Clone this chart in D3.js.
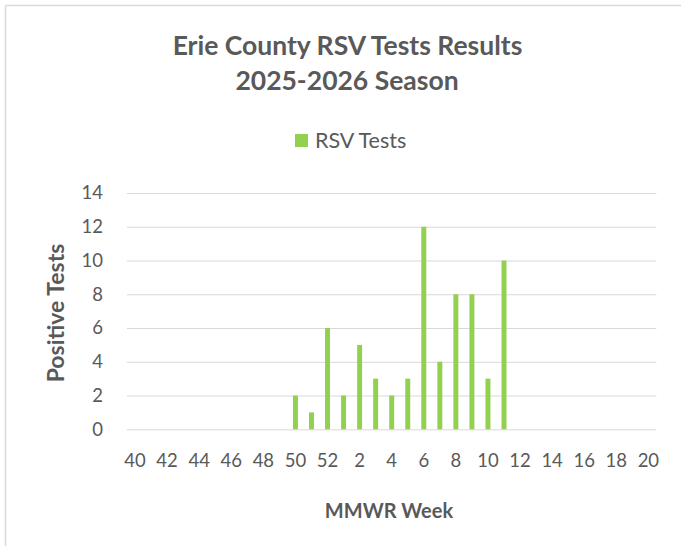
<!DOCTYPE html>
<html>
  <head>
    <meta charset="utf-8">
    <title>Erie County RSV Tests Results</title>
    <script src="https://d3js.org/d3.v7.min.js"></script>
  </head>
  <style>
    body { margin: 0; background: #fff; }
    text { font-family: Lato, "Open Sans", sans-serif; fill: #595959; }
    .grid-line { stroke: #d9d9d9; stroke-width: 1px; }
  </style>
  <body>

    <script>
      const width = 681;
      const height = 546;
      const margin = {top: 193, right: 25, bottom: 116, left: 127};
      const plotWidth = 656.4 - margin.left;
      const plotHeight = 429.3 - margin.top;

      // MMWR weeks, season runs 40..52 then 1..20
      const weeks = ["40", "41", "42", "43", "44", "45", "46", "47", "48", "49", "50", "51", "52",
        "1", "2", "3", "4", "5", "6", "7", "8", "9", "10", "11", "12", "13", "14", "15", "16",
        "17", "18", "19", "20"];
      const rsvTests = [null, null, null, null, null, null, null, null, null, null, 2, 1, 6,
        2, 5, 3, 2, 3, 12, 4, 8, 8, 3, 10, null, null, null, null, null, null, null, null, null];
      const xTickLabels = ["40", "42", "44", "46", "48", "50", "52", "2", "4", "6", "8", "10",
        "12", "14", "16", "18", "20"];
      const yTicks = [0, 2, 4, 6, 8, 10, 12, 14];

      const data = weeks.map(function(w, i) { return {week: w, value: rsvTests[i]}; });

      const xScale = d3.scaleBand()
        .domain(weeks)
        .range([0, plotWidth])
        .paddingInner(0.69)
        .paddingOuter(0.345);

      const yScale = d3.scaleLinear()
        .domain([0, 14])
        .range([plotHeight, 0]);

      const svgContainer = d3.select("body")
        .append("svg")
          .attr("width", width)
          .attr("height", height);

      // chart frame (only top and left edges visible in the crop)
      svgContainer.append("line")
        .attr("x1", 5.5).attr("y1", 5.5).attr("x2", width).attr("y2", 5.5)
        .attr("stroke", "#d9d9d9").attr("stroke-width", 1.5);
      svgContainer.append("line")
        .attr("x1", 5.5).attr("y1", 5.5).attr("x2", 5.5).attr("y2", height)
        .attr("stroke", "#d9d9d9").attr("stroke-width", 1.5);

      const plot = svgContainer.append("g")
        .attr("transform", "translate(" + margin.left + "," + margin.top + ")");

      function renderYAxis() {
        const yAxis = d3.axisLeft(yScale)
          .tickValues(yTicks)
          .tickSize(0)
          .tickPadding(24);

        const g = plot.append("g")
          .classed("y-axis", true)
          .call(yAxis);

        g.select(".domain").remove();
        g.selectAll("text")
          .style("font-size", "18.5px")
          .style("font-family", "Lato, sans-serif")
          .attr("fill", "#595959");

        g.selectAll("g.tick")
          .append("line")
            .classed("grid-line", true)
            .attr("x1", 0)
            .attr("x2", plotWidth);
      }

      function renderXAxis() {
        const xAxis = d3.axisBottom(xScale)
          .tickValues(xTickLabels)
          .tickSize(0);

        const g = plot.append("g")
          .classed("x-axis", true)
          .attr("transform", "translate(0," + plotHeight + ")")
          .call(xAxis);

        g.select(".domain").remove();
        g.selectAll("text")
          .attr("y", 37.5)
          .attr("dy", 0)
          .style("font-size", "18.5px")
          .style("font-family", "Lato, sans-serif")
          .attr("fill", "#595959");
      }

      renderYAxis();
      renderXAxis();

      plot.append("g")
          .classed("bars", true)
        .selectAll("rect")
        .data(data.filter(function(d) { return d.value !== null; }))
        .enter()
        .append("rect")
          .attr("x", function(d) { return xScale(d.week); })
          .attr("y", function(d) { return yScale(d.value); })
          .attr("width", xScale.bandwidth())
          .attr("height", function(d) { return plotHeight - yScale(d.value); })
          .attr("fill", "#92d050");

      // titles
      svgContainer.append("text")
        .attr("x", 347.5).attr("y", 55)
        .attr("text-anchor", "middle")
        .style("font-size", "26.5px").style("font-weight", "bold")
        .text("Erie County RSV Tests Results");
      svgContainer.append("text")
        .attr("x", 347).attr("y", 90)
        .attr("text-anchor", "middle")
        .style("font-size", "26.5px").style("font-weight", "bold")
        .text("2025-2026 Season");

      // legend
      const legend = svgContainer.append("g").attr("transform", "translate(295,134)");
      legend.append("rect")
        .attr("width", 13).attr("height", 13)
        .attr("fill", "#92d050");
      legend.append("text")
        .attr("x", 20).attr("y", 14)
        .style("font-size", "21.5px")
        .text("RSV Tests");

      // axis titles
      svgContainer.append("text")
        .attr("transform", "translate(64,313) rotate(-90)")
        .attr("text-anchor", "middle")
        .style("font-size", "23px").style("font-weight", "bold")
        .text("Positive Tests");
      svgContainer.append("text")
        .attr("x", 389).attr("y", 518)
        .attr("text-anchor", "middle")
        .style("font-size", "20px").style("font-weight", "bold")
        .text("MMWR Week");
    </script>
  </body>
</html>
